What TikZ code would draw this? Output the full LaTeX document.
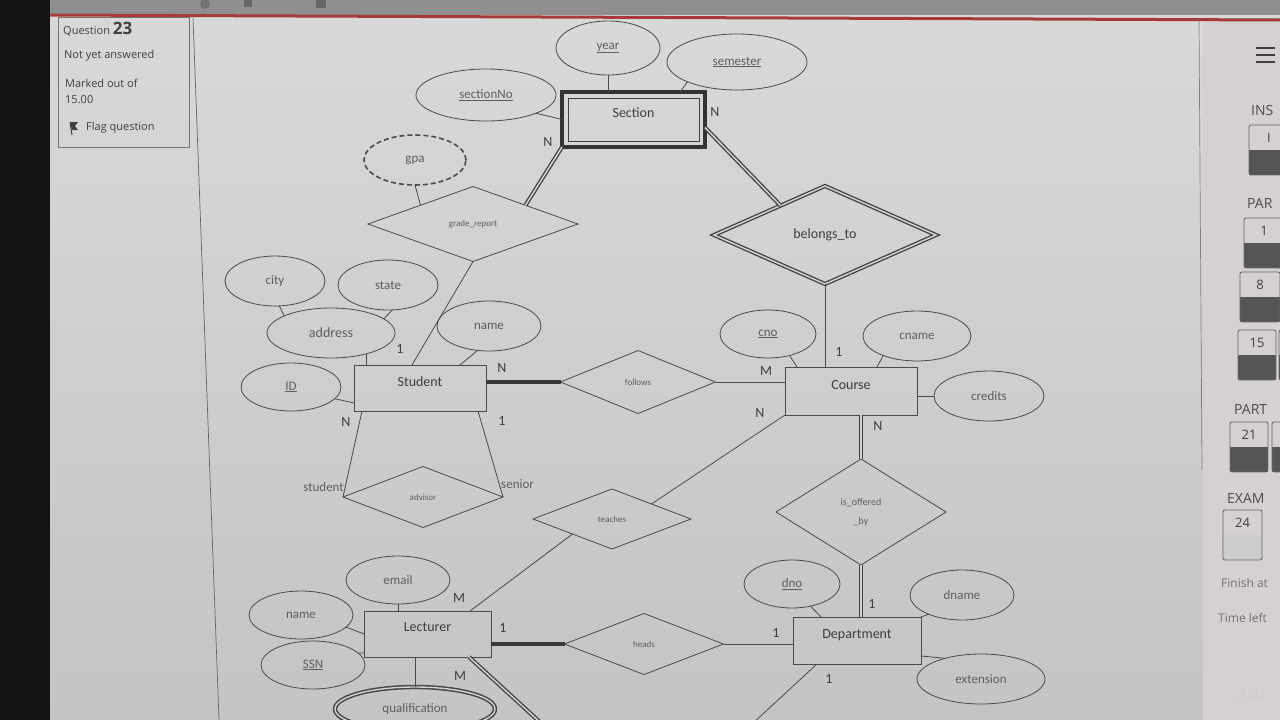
\documentclass[tikz,border=0pt]{standalone}
\usepackage{fontspec}
\setmainfont{Carlito}
\newfontfamily\uifont{Open Sans}
\usetikzlibrary{shapes.geometric,calc}

\definecolor{ink}{HTML}{3E3E3E}
\definecolor{soft}{HTML}{5E5E5E}
\definecolor{linec}{HTML}{4A4A4A}
\definecolor{paper}{HTML}{D2D2D2}
\definecolor{bgtop}{HTML}{D9D9D9}
\definecolor{bgbot}{HTML}{C4C4C4}
\definecolor{bgside}{HTML}{D5D0D3}
\definecolor{topbar}{HTML}{8F8F8F}
\definecolor{redline}{HTML}{A83A3A}
\definecolor{navdark}{HTML}{555555}
\definecolor{navlight}{HTML}{CDCDCD}

\tikzset{
  attr/.style={ellipse, draw=linec, line width=0.8pt, inner sep=0pt, outer sep=0pt,
               text=soft, font=\fontsize{13}{14}\selectfont},
  ent/.style={rectangle, draw=linec, line width=0.8pt, inner sep=0pt, outer sep=0pt,
              text=ink, text depth=13pt, font=\fontsize{14}{15}\selectfont},
  rel/.style={diamond, draw=linec, line width=0.8pt, inner sep=0pt, outer sep=0pt,
              text=soft, font=\fontsize{9}{10}\selectfont},
  card/.style={text=ink, inner sep=0pt, font=\fontsize{14}{15}\selectfont},
  link/.style={draw=linec, line width=0.8pt},
  total/.style={draw=black!75, line width=1.3pt, double=paper, double distance=1.5pt},
  heavy/.style={draw=black!78, line width=3.8pt},
  ui/.style={inner sep=0pt, anchor=west, text=black!75, font=\uifont\fontsize{11}{13}\selectfont},
  side/.style={inner sep=0pt, anchor=west, text=black!70, font=\uifont\fontsize{14}{16}\selectfont},
}

% quiz navigation button: x, y, width, label, lower fill, name
\newcommand\navbox[6]{%
  \fill[#5] (#1,#2+25) rectangle (#1+#3,#2+50);
  \draw[black!60, line width=0.8pt, rounded corners=2pt] (#1,#2) rectangle (#1+#3,#2+50);
  \node[inner sep=0pt, text=black!75, font=\uifont\fontsize{13}{14}\selectfont] (#6) at (#1+#3/2,#2+13) {#4};
}

\begin{document}
\begin{tikzpicture}[x=1pt,y=-1pt]
\useasboundingbox (0,0) rectangle (1280,720);
\clip (0,0) rectangle (1280,720);

% ---------- screen background ----------
\shade[top color=bgtop, bottom color=bgbot] (48,0) rectangle (1280,720);
\fill[bgside] (1203,21) rectangle (1280,720);
\fill[topbar] (48,0) rectangle (1280,15);
\fill[black!55] (205,4) circle (5);
\fill[black!60] (244,0) rectangle (252,7);
\fill[black!60] (316,0) rectangle (326,8);
\fill[black!92] (0,0) rectangle (50,720);
\draw[redline, line width=3pt] (50,15) -- (1280,20);
\draw[black!60, line width=0.7pt] (193,18) -- (219,720);
\draw[black!50, line width=0.7pt] (1199,21) -- (1202,470);

% ---------- question info panel ----------
\draw[black!55, line width=0.8pt] (58,17) rectangle (189,147);
\node[ui] (qn) at (63,29) {Question \fontsize{17}{18}\selectfont\bfseries 23};
\node[ui] (qs) at (64,56) {Not yet answered};
\node[ui] (qm) at (65,83) {Marked out of};
\node[ui] (qv) at (65,100) {15.00};
\fill[black!75] (70,122) -- (78,122) -- (75,126) -- (78,130) -- (72,130) -- cycle;
\draw[black!75, line width=1pt] (70,122) -- (72,135);
\node[ui] (qf) at (86,128) {Flag question};

% ---------- navigation sidebar ----------
\foreach \yy in {48,55,62} \draw[black!75, line width=2.2pt] (1256,\yy) -- (1275,\yy);
\node[side] (s1) at (1251,110) {INS};
\navbox{1249}{125}{40}{I}{navdark}{b0}
\node[side] (s2) at (1247,203) {PAR};
\navbox{1244}{218}{40}{1}{navdark}{b1}
\navbox{1240}{272}{40}{8}{navdark}{b8}
\navbox{1238}{330}{38}{15}{navdark}{b15}
\navbox{1279}{330}{38}{}{navdark}{b16}
\node[side] (s3) at (1234,409) {PART};
\navbox{1230}{422}{38}{21}{navdark}{b21}
\navbox{1272}{422}{38}{}{navdark}{b22}
\node[side] (s4) at (1227,498) {EXAM};
\navbox{1223}{510}{39}{24}{navlight}{b24}
\node[side, text=black!55, font=\uifont\fontsize{12}{14}\selectfont] (s5) at (1221,583) {Finish at};
\node[side, text=black!55, font=\uifont\fontsize{12}{14}\selectfont] (s6) at (1218,618) {Time left};
\node[side, text=black!20, font=\uifont\fontsize{15}{16}\selectfont] (s7) at (1238,694) {Acti};

% ---------- ER diagram: entities ----------
\node[ent, minimum width=143pt, minimum height=55pt, draw=black!80, line width=4pt] (sec) at (633.5,119.5) {Section};
\draw[draw=black!75, line width=1pt] ($(sec.north west)+(6,6)$) rectangle ($(sec.south east)+(-6,-6)$);
\node[ent, minimum width=132pt, minimum height=46pt] (stu) at (420,388) {Student};
\node[ent, minimum width=132pt, minimum height=48pt] (crs) at (851,391) {Course};
\node[ent, minimum width=127pt, minimum height=46pt] (lec) at (427.5,634) {Lecturer};
\node[ent, minimum width=128pt, minimum height=47pt] (dep) at (857,640.5) {Department};

% ---------- relationships ----------
\node[rel, minimum width=210pt, minimum height=75pt] (gr) at (473,224) {grade\_report};
\node[rel, minimum width=222pt, minimum height=98pt, total, text=ink, font=\fontsize{14}{15}\selectfont] (bt) at (825,235) {belongs\_to};
\node[rel, minimum width=155pt, minimum height=63pt] (fol) at (638,382) {follows};
\node[rel, minimum width=160pt, minimum height=61pt] (adv) at (423,497) {advisor};
\node[rel, minimum width=158pt, minimum height=60pt] (tea) at (612,519) {teaches};
\node[rel, minimum width=170pt, minimum height=106pt, align=center, font=\fontsize{10}{19}\selectfont] (iob) at (861,512) {is\_offered\\\_by};
\node[rel, minimum width=159pt, minimum height=61pt] (hea) at (644,644) {heads};

% ---------- attributes ----------
\node[attr, minimum width=104pt, minimum height=54pt] (yr) at (608,48) {\underline{year}};
\node[attr, minimum width=140pt, minimum height=56pt] (sem) at (737,62) {\underline{semester}};
\node[attr, minimum width=140pt, minimum height=52pt] (sno) at (486,95) {\underline{sectionNo}};
\node[attr, minimum width=102pt, minimum height=50pt, draw=black!70, line width=1.6pt, dash pattern=on 5pt off 3pt] (gpa) at (415,160) {gpa};
\node[attr, minimum width=100pt, minimum height=50pt] (city) at (275,281) {city};
\node[attr, minimum width=100pt, minimum height=50pt] (st) at (388,285) {state};
\node[attr, minimum width=128pt, minimum height=50pt, font=\fontsize{14}{15}\selectfont] (addr) at (331,333) {address};
\node[attr, minimum width=104pt, minimum height=50pt] (nm) at (489,326) {name};
\node[attr, minimum width=100pt, minimum height=48pt] (id) at (291,387) {\underline{ID}};
\node[attr, minimum width=96pt, minimum height=48pt] (cno) at (768,334) {\underline{cno}};
\node[attr, minimum width=108pt, minimum height=50pt] (cnm) at (917,336) {cname};
\node[attr, minimum width=110pt, minimum height=50pt] (crd) at (989,396) {credits};
\node[attr, minimum width=104pt, minimum height=48pt] (em) at (398,580) {email};
\node[attr, minimum width=104pt, minimum height=48pt] (nm2) at (301,615) {name};
\node[attr, minimum width=104pt, minimum height=48pt] (ssn) at (313,665) {\underline{SSN}};
\node[attr, minimum width=160pt, minimum height=44pt, draw=black!72, line width=1.5pt, double=paper, double distance=1.4pt] (qual) at (415,709) {qualification};
\node[attr, minimum width=96pt, minimum height=48pt] (dno) at (792,584) {\underline{dno}};
\node[attr, minimum width=104pt, minimum height=50pt] (dnm) at (962,595) {dname};
\node[attr, minimum width=128pt, minimum height=50pt] (ext) at (981,679) {extension};

% ---------- connectors ----------
% Section
\draw[link] (yr.south) -- (yr.south |- sec.north);
\draw[link] (sem.south west) -- ($(sec.north east)+(-25,0)$);
\draw[link] (sno.-20) -- (sec.west);
\draw[total] (sec.south west) -- (gr.north east);
\draw[total] ($(sec.east)+(0,8)$) -- ($(bt.west)!0.6!(bt.north)$);
% grade_report and Student
\draw[link] (gpa.south) -- (gr.north west);
\draw[link] (gr.south) -- ($(stu.north)+(-8,0)$);
\draw[link] (city.-80) -- (addr.160);
\draw[link] (st.-80) -- (addr.15);
\draw[link] (addr.-30) -- (addr.-30 |- stu.north);
\draw[link] (nm.-115) -- ($(stu.north east)+(-26,0)$);
\draw[link] (id.-15) -- ($(stu.south west)+(0,-8)$);
\draw[heavy] (fol.west) -- (fol.west -| stu.east);
\draw[link] ($(stu.south west)+(8,0)$) -- (adv.west);
\draw[link] ($(stu.south east)+(-8,0)$) -- (adv.east);
% Course
\draw[link] (fol.east) -- (fol.east -| crs.west);
\draw[link] (bt.south) -- (bt.south |- crs.north);
\draw[link] (cno.-45) -- ($(crs.north west)+(12,0)$);
\draw[link] (cnm.-150) -- ($(crs.north east)+(-40,0)$);
\draw[link] (crd.west) -- (crd.west -| crs.east);
\draw[link] (tea.north east) -- (crs.south west);
\draw[total] (iob.north) -- (iob.north |- crs.south);
% Lecturer
\draw[link] (tea.south west) -- ($(lec.north east)+(-21,0)$);
\draw[link] (em.south) -- (em.south |- lec.north);
\draw[link] (nm2.-15) -- (lec.west);
\draw[link] (ssn.15) -- ($(lec.south west)+(0,-4)$);
\draw[link] (qual.north) -- (qual.north |- lec.south);
\draw[heavy] (hea.west) -- (hea.west -| lec.east);
\coordinate (lecout) at (542,724);
\draw[total] ($(lec.south east)+(-22,0)$) -- (lecout);
% Department
\draw[link] (hea.east) -- (hea.east -| dep.west);
\draw[total] (iob.south) -- (iob.south |- dep.north);
\draw[link] (dno.-50) -- ($(dep.north west)+(28,0)$);
\draw[link] (dnm.-150) -- (dep.north east);
\draw[link] (ext.150) -- ($(dep.south east)+(0,-8)$);
\coordinate (depout) at (752,724);
\draw[link] ($(dep.south west)+(24,0)$) -- (depout);

% ---------- cardinalities and roles ----------
\node[card] (k1) at (548,142) {N};
\node[card] (k2) at (715,112) {N};
\node[card] (k3) at (400,349) {1};
\node[card] (k4) at (502,368) {N};
\node[card] (k5) at (346,422) {N};
\node[card] (k6) at (502,421) {1};
\node[card, anchor=east, text=soft, font=\fontsize{13}{14}\selectfont] (r1) at (344,487) {student};
\node[card, anchor=west, text=soft, font=\fontsize{13}{14}\selectfont] (r2) at (501,484) {senior};
\node[card] (k7) at (766,371) {M};
\node[card] (k8) at (839,352) {1};
\node[card] (k9) at (760,413) {N};
\node[card] (k10) at (878,426) {N};
\node[card] (k11) at (459,598) {M};
\node[card] (k12) at (503,628) {1};
\node[card] (k13) at (776,633) {1};
\node[card] (k14) at (872,604) {1};
\node[card] (k15) at (460,676) {M};
\node[card] (k16) at (829,679) {1};
\end{tikzpicture}
\end{document}
